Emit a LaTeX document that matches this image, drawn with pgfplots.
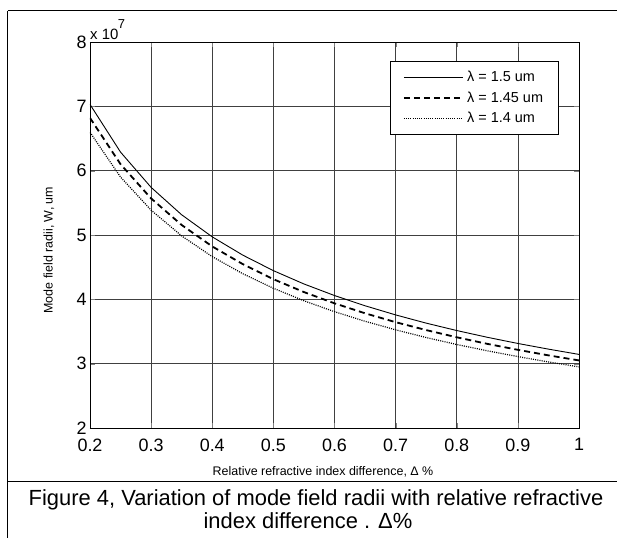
\documentclass[border=0pt]{standalone}
\usepackage{fontspec}
\setmainfont{Liberation Sans}
\usepackage{pgfplots}
\pgfplotsset{compat=1.18}
\begin{document}
\begin{tikzpicture}
\path[use as bounding box] (-90bp,-110bp) rectangle (527bp,428bp);
\begin{axis}[
  at={(0bp,0bp)}, anchor=south west,
  scale only axis, width=489bp, height=386bp,
  xmin=0.2, xmax=1, ymin=2e7, ymax=8e7,
  xtick={0.2,0.3,0.4,0.5,0.6,0.7,0.8,0.9,1},
  ytick={2e7,3e7,4e7,5e7,6e7,7e7,8e7},
  scaled x ticks=false,
  scaled y ticks=base 10:-7,
  ytick scale label code/.code={x 10\kern-0.5bp\raisebox{11bp}{\fontsize{13}{13}\selectfont 7}},
  every y tick scale label/.style={at={(axis description cs:0,1)}, anchor=base west, yshift=3bp, inner sep=0pt, font=\fontsize{15}{15}\selectfont},
  /pgf/number format/assume math mode=true,
  tick label style={font=\fontsize{18}{18}\selectfont},
  xticklabel style={yshift=-7bp},
  tick align=inside, major tick length=5bp,
  grid=major, grid style={black!75, line width=0.7bp},
  axis line style={line width=0.9bp},
  xlabel={Relative refractive index difference, Δ \%},
  ylabel={Mode field radii, W, um},
  every axis x label/.style={at={(axis description cs:0.4765,-0.1218)}, anchor=base, font=\fontsize{12.5}{12.5}\selectfont},
  every axis y label/.style={at={(axis description cs:-0.0838,0.461)}, rotate=90, anchor=center, font=\fontsize{12.5}{12.5}\selectfont},
  legend image code/.code={\draw[#1] (0bp,0bp) -- (59bp,0bp);},
  legend style={at={(rel axis cs:0.9591,0.9508)}, anchor=north east, draw=black, line width=0.9bp, font=\fontsize{14.5}{16}\selectfont, inner xsep=12bp, inner ysep=6bp, row sep=0bp, cells={anchor=west}, nodes={text height=11bp, text depth=3bp, inner ysep=3.25bp, inner xsep=3.5bp}},
]
\addplot[black, line width=0.9bp, solid] coordinates {
(0.20,7.030e7) (0.25,6.288e7) (0.30,5.740e7) (0.35,5.314e7) (0.40,4.971e7) (0.45,4.687e7)
(0.50,4.446e7) (0.55,4.239e7) (0.60,4.059e7) (0.65,3.900e7) (0.70,3.758e7) (0.75,3.630e7)
(0.80,3.515e7) (0.85,3.410e7) (0.90,3.314e7) (0.95,3.226e7) (1.00,3.144e7)};
\addlegendentry{λ = 1.5 um}
\addplot[black, line width=1.8bp, dash pattern=on 6bp off 4bp] coordinates {
(0.20,6.820e7) (0.25,6.100e7) (0.30,5.568e7) (0.35,5.155e7) (0.40,4.822e7) (0.45,4.547e7)
(0.50,4.313e7) (0.55,4.113e7) (0.60,3.938e7) (0.65,3.783e7) (0.70,3.645e7) (0.75,3.522e7)
(0.80,3.410e7) (0.85,3.308e7) (0.90,3.215e7) (0.95,3.129e7) (1.00,3.050e7)};
\addlegendentry{λ = 1.45 um}
\addplot[black, line width=1.2bp, dash pattern=on 1bp off 1.2bp] coordinates {
(0.20,6.597e7) (0.25,5.900e7) (0.30,5.386e7) (0.35,4.986e7) (0.40,4.664e7) (0.45,4.398e7)
(0.50,4.172e7) (0.55,3.978e7) (0.60,3.808e7) (0.65,3.659e7) (0.70,3.526e7) (0.75,3.406e7)
(0.80,3.298e7) (0.85,3.200e7) (0.90,3.110e7) (0.95,3.027e7) (1.00,2.950e7)};
\addlegendentry{λ = 1.4 um}
\end{axis}
\draw[line width=1bp] (-82bp,417bp) -- (527bp,417bp);
\draw[line width=1bp] (-82bp,-53bp) -- (527bp,-53bp);
\draw[line width=1bp] (-82bp,417bp) -- (-82bp,-110bp);
\node[anchor=base, inner sep=0pt, font=\fontsize{22}{25}\selectfont] at (226bp,-77bp) {Figure 4, Variation of mode field radii with relative refractive};
\node[anchor=base, inner sep=0pt, font=\fontsize{22}{25}\selectfont] at (218bp,-100bp) {index difference . Δ\%};
\end{tikzpicture}
\end{document}
